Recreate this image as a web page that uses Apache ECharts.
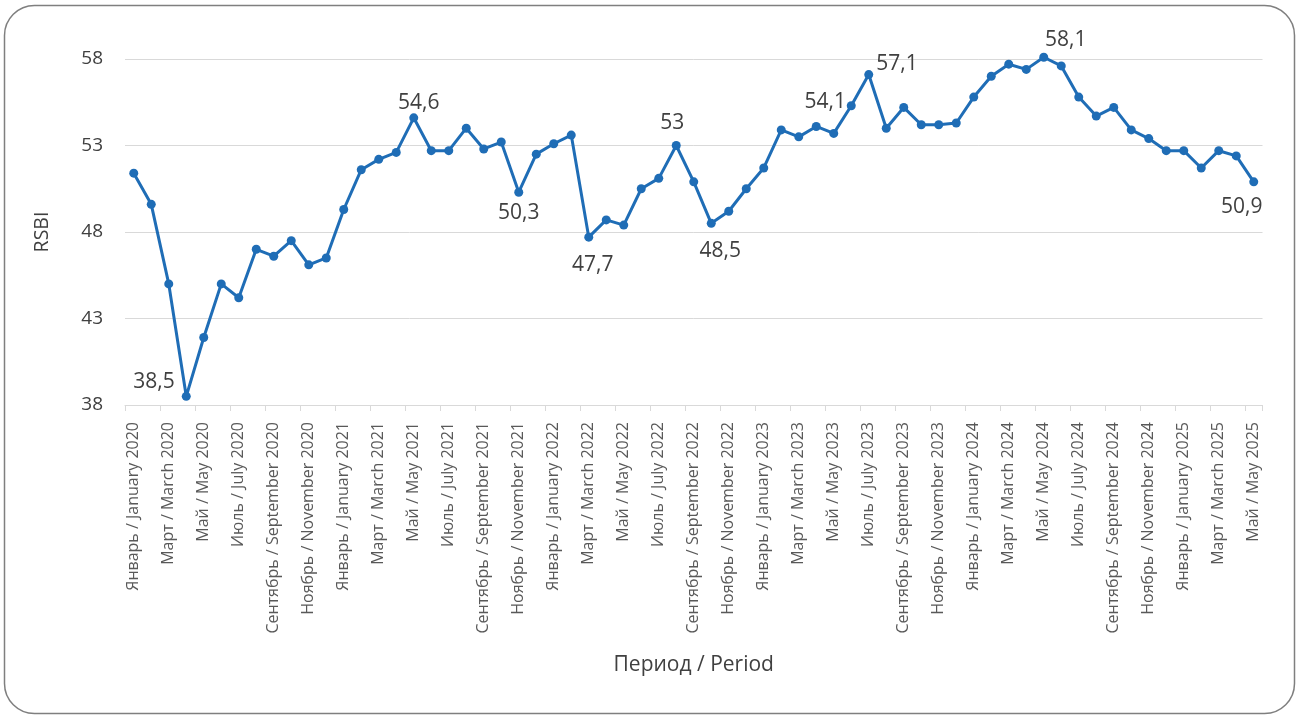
<!DOCTYPE html>
<html>
<head>
<meta charset="utf-8">
<script src="https://cdn.jsdelivr.net/npm/echarts@6/dist/echarts.min.js"></script>
<style>
html,body{margin:0;padding:0;background:#fff;}
#chart{width:1300px;height:722px;}
</style>
</head>
<body>
<div id="chart"></div>
<script>
// ---- data ----
const monthsRu = ['Январь','Февраль','Март','Апрель','Май','Июнь','Июль','Август','Сентябрь','Октябрь','Ноябрь','Декабрь'];
const monthsEn = ['January','February','March','April','May','June','July','August','September','October','November','December'];
const years = [2020, 2021, 2022, 2023, 2024, 2025];
const lastYearMonths = 5; // Jan..May 2025

const rsbi = [
  51.4, 49.6, 45.0, 38.5, 41.9, 45.0, 44.2, 47.0, 46.6, 47.5, 46.1, 46.5,
  49.3, 51.6, 52.2, 52.6, 54.6, 52.7, 52.7, 54.0, 52.8, 53.2, 50.3, 52.5,
  53.1, 53.6, 47.7, 48.7, 48.4, 50.5, 51.1, 53.0, 50.9, 48.5, 49.2, 50.5,
  51.7, 53.9, 53.5, 54.1, 53.7, 55.3, 57.1, 54.0, 55.2, 54.2, 54.2, 54.3,
  55.8, 57.0, 57.7, 57.4, 58.1, 57.6, 55.8, 54.7, 55.2, 53.9, 53.4, 52.7,
  52.7, 51.7, 52.7, 52.4, 50.9
];

const yTicks = [38, 43, 48, 53, 58];

const categories = [];
years.forEach(function (y) {
  const n = (y === years[years.length - 1]) ? lastYearMonths : 12;
  for (let m = 0; m < n; m++) categories.push(monthsRu[m] + ' / ' + monthsEn[m] + ' ' + y);
});

// indices of annotated points
const labelled = [3, 16, 22, 26, 31, 33, 39, 42, 52, 64];

// ---- styling of annotations (positions only) ----
const labelPlacement = {
  3:  {position: 'left',   offset: [-2, -14]},
  16: {position: 'top',    offset: [5, 5]},
  22: {position: 'bottom', offset: [0, 1]},
  26: {position: 'bottom', offset: [4, 8]},
  31: {position: 'top',    offset: [-4, -2]},
  33: {position: 'bottom', offset: [9, 8]},
  39: {position: 'top',    offset: [9, -4]},
  42: {position: 'right',  offset: [-2, -11]},
  52: {position: 'top',    offset: [22, 3]},
  64: {position: 'bottom', offset: [-12, 5]}
};

const FONT = '"Open Sans", "Noto Sans", sans-serif';
const seriesData = rsbi.map(function (v, i) {
  if (labelled.indexOf(i) >= 0) {
    const p = labelPlacement[i];
    return {
      value: v,
      label: {
        show: true,
        position: p.position,
        offset: p.offset,
        distance: 5,
        fontSize: 21,
        fontFamily: FONT,
        color: '#404040',
        formatter: function (prm) { return String(prm.value).replace('.', ','); }
      }
    };
  }
  return v;
});

const chart = echarts.init(document.getElementById('chart'), null, {renderer: 'canvas'});
chart.setOption({
  backgroundColor: '#ffffff',
  animation: false,
  textStyle: {fontFamily: FONT},
  graphic: [{
    type: 'rect',
    silent: true,
    shape: {x: 4.5, y: 5.5, width: 1290, height: 708, r: 30},
    style: {fill: 'none', stroke: '#7f7f7f', lineWidth: 1.5}
  }],
  grid: {left: 125, right: 37.5, top: 59, bottom: 317, containLabel: false},
  xAxis: {
    type: 'category',
    data: categories,
    boundaryGap: true,
    name: 'Период / Period',
    nameLocation: 'middle',
    nameGap: 250,
    nameTextStyle: {fontSize: 21, color: '#404040', fontFamily: FONT},
    axisLine: {show: true, lineStyle: {color: '#d9d9d9', width: 1}},
    axisTick: {show: true, interval: 1, length: 6, lineStyle: {color: '#d9d9d9'}},
    axisLabel: {
      interval: 1,
      rotate: 90,
      margin: 17,
      fontSize: 16,
      color: '#595959',
      fontFamily: FONT
    },
    splitLine: {show: false}
  },
  yAxis: {
    type: 'value',
    min: 38,
    max: 58,
    interval: 5,
    name: 'RSBI',
    nameLocation: 'middle',
    nameRotate: 90,
    nameGap: 73,
    nameTextStyle: {fontSize: 19.5, color: '#404040', fontFamily: FONT},
    axisLine: {show: false},
    axisTick: {show: false},
    axisLabel: {
      margin: 22,
      fontSize: 19,
      color: '#404040',
      fontFamily: FONT,
      formatter: function (v) { return yTicks.indexOf(v) >= 0 ? String(v) : ''; }
    },
    splitLine: {show: true, lineStyle: {color: '#d9d9d9', width: 1}}
  },
  series: [{
    type: 'line',
    data: seriesData,
    symbol: 'circle',
    symbolSize: 9,
    showAllSymbol: true,
    clip: false,
    lineStyle: {color: '#1f6db6', width: 3},
    itemStyle: {color: '#1f6db6'},
    label: {show: false},
    z: 3
  }]
});
</script>
</body>
</html>
